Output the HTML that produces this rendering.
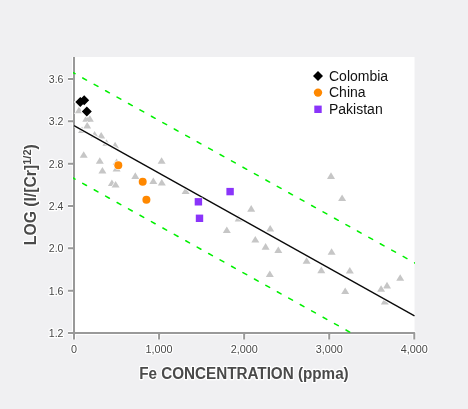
<!DOCTYPE html>
<html><head><meta charset="utf-8"><style>
html,body{margin:0;padding:0;width:468px;height:409px;overflow:hidden;background:#f0f0f2;}
svg{display:block;will-change:transform;}
</style></head><body><svg width="468" height="409" viewBox="0 0 468 409"><rect x="0" y="0" width="468" height="409" fill="#f0f0f2"/><rect x="74" y="57" width="340.5" height="276" fill="#ffffff"/><defs><clipPath id="c"><rect x="73" y="57" width="342" height="276"/></clipPath></defs><path d="M74 57V339.5M68 333H414.3V339.5M68 79.00H74M68 121.33H74M68 163.67H74M68 206.00H74M68 248.33H74M68 290.67H74M159.08 333V339.5M244.16 333V339.5M329.24 333V339.5" fill="none" stroke="#fff" stroke-width="4" stroke-linejoin="round"/><path d="M74 57V339.5M68 333H414.3V339.5M68 79.00H74M68 121.33H74M68 163.67H74M68 206.00H74M68 248.33H74M68 290.67H74M159.08 333V339.5M244.16 333V339.5M329.24 333V339.5" fill="none" stroke="#999999" stroke-width="2" stroke-linejoin="round"/><g clip-path="url(#c)"><line x1="70.5" y1="71.17" x2="420" y2="265.84" stroke="#00f000" stroke-width="1.5" stroke-dasharray="4.3 8.8" stroke-dashoffset="-0.9" stroke-linecap="round"/><line x1="70.5" y1="176.57" x2="420" y2="371.24" stroke="#00f000" stroke-width="1.5" stroke-dasharray="4.3 8.8" stroke-dashoffset="-0.9" stroke-linecap="round"/><path d="M75.00 113.20L79.00 106.60L83.00 113.20Z" fill="#c6c6c6" stroke="#fff" stroke-width="1.2" paint-order="stroke"/><path d="M82.30 121.70L86.30 115.10L90.30 121.70Z" fill="#c6c6c6" stroke="#fff" stroke-width="1.2" paint-order="stroke"/><path d="M85.80 121.70L89.80 115.10L93.80 121.70Z" fill="#c6c6c6" stroke="#fff" stroke-width="0" paint-order="stroke"/><path d="M83.20 128.60L87.20 122.00L91.20 128.60Z" fill="#c6c6c6" stroke="#fff" stroke-width="1.2" paint-order="stroke"/><path d="M78.00 133.00L82.00 126.40L86.00 133.00Z" fill="#c6c6c6" stroke="#fff" stroke-width="1.2" paint-order="stroke"/><path d="M90.60 137.60L94.60 131.00L98.60 137.60Z" fill="#c6c6c6" stroke="#fff" stroke-width="1.2" paint-order="stroke"/><path d="M97.20 138.60L101.20 132.00L105.20 138.60Z" fill="#c6c6c6" stroke="#fff" stroke-width="1.2" paint-order="stroke"/><path d="M102.40 145.80L106.40 139.20L110.40 145.80Z" fill="#c6c6c6" stroke="#fff" stroke-width="1.2" paint-order="stroke"/><path d="M111.10 148.40L115.10 141.80L119.10 148.40Z" fill="#c6c6c6" stroke="#fff" stroke-width="1.2" paint-order="stroke"/><path d="M79.70 157.80L83.70 151.20L87.70 157.80Z" fill="#c6c6c6" stroke="#fff" stroke-width="1.2" paint-order="stroke"/><path d="M95.80 163.80L99.80 157.20L103.80 163.80Z" fill="#c6c6c6" stroke="#fff" stroke-width="1.2" paint-order="stroke"/><path d="M98.40 173.60L102.40 167.00L106.40 173.60Z" fill="#c6c6c6" stroke="#fff" stroke-width="1.2" paint-order="stroke"/><path d="M112.60 165.00L116.60 158.40L120.60 165.00Z" fill="#c6c6c6" stroke="#fff" stroke-width="1.2" paint-order="stroke"/><path d="M112.60 171.60L116.60 165.00L120.60 171.60Z" fill="#c6c6c6" stroke="#fff" stroke-width="1.2" paint-order="stroke"/><path d="M107.90 186.00L111.90 179.40L115.90 186.00Z" fill="#c6c6c6" stroke="#fff" stroke-width="1.2" paint-order="stroke"/><path d="M111.60 187.60L115.60 181.00L119.60 187.60Z" fill="#c6c6c6" stroke="#fff" stroke-width="1.2" paint-order="stroke"/><path d="M157.60 163.80L161.60 157.20L165.60 163.80Z" fill="#c6c6c6" stroke="#fff" stroke-width="1.2" paint-order="stroke"/><path d="M131.30 178.90L135.30 172.30L139.30 178.90Z" fill="#c6c6c6" stroke="#fff" stroke-width="1.2" paint-order="stroke"/><path d="M149.30 184.00L153.30 177.40L157.30 184.00Z" fill="#c6c6c6" stroke="#fff" stroke-width="1.2" paint-order="stroke"/><path d="M157.80 185.50L161.80 178.90L165.80 185.50Z" fill="#c6c6c6" stroke="#fff" stroke-width="1.2" paint-order="stroke"/><path d="M181.60 194.00L185.60 187.40L189.60 194.00Z" fill="#c6c6c6" stroke="#fff" stroke-width="1.2" paint-order="stroke"/><path d="M247.20 211.70L251.20 205.10L255.20 211.70Z" fill="#c6c6c6" stroke="#fff" stroke-width="1.2" paint-order="stroke"/><path d="M234.70 221.40L238.70 214.80L242.70 221.40Z" fill="#c6c6c6" stroke="#fff" stroke-width="1.2" paint-order="stroke"/><path d="M222.80 233.00L226.80 226.40L230.80 233.00Z" fill="#c6c6c6" stroke="#fff" stroke-width="1.2" paint-order="stroke"/><path d="M251.30 242.50L255.30 235.90L259.30 242.50Z" fill="#c6c6c6" stroke="#fff" stroke-width="1.2" paint-order="stroke"/><path d="M266.20 231.50L270.20 224.90L274.20 231.50Z" fill="#c6c6c6" stroke="#fff" stroke-width="1.2" paint-order="stroke"/><path d="M261.60 249.70L265.60 243.10L269.60 249.70Z" fill="#c6c6c6" stroke="#fff" stroke-width="1.2" paint-order="stroke"/><path d="M274.30 253.10L278.30 246.50L282.30 253.10Z" fill="#c6c6c6" stroke="#fff" stroke-width="1.2" paint-order="stroke"/><path d="M265.80 277.00L269.80 270.40L273.80 277.00Z" fill="#c6c6c6" stroke="#fff" stroke-width="1.2" paint-order="stroke"/><path d="M327.00 178.90L331.00 172.30L335.00 178.90Z" fill="#c6c6c6" stroke="#fff" stroke-width="1.2" paint-order="stroke"/><path d="M338.10 201.00L342.10 194.40L346.10 201.00Z" fill="#c6c6c6" stroke="#fff" stroke-width="1.2" paint-order="stroke"/><path d="M327.60 254.80L331.60 248.20L335.60 254.80Z" fill="#c6c6c6" stroke="#fff" stroke-width="1.2" paint-order="stroke"/><path d="M302.60 263.80L306.60 257.20L310.60 263.80Z" fill="#c6c6c6" stroke="#fff" stroke-width="1.2" paint-order="stroke"/><path d="M317.30 273.20L321.30 266.60L325.30 273.20Z" fill="#c6c6c6" stroke="#fff" stroke-width="1.2" paint-order="stroke"/><path d="M345.80 273.60L349.80 267.00L353.80 273.60Z" fill="#c6c6c6" stroke="#fff" stroke-width="1.2" paint-order="stroke"/><path d="M341.20 294.10L345.20 287.50L349.20 294.10Z" fill="#c6c6c6" stroke="#fff" stroke-width="1.2" paint-order="stroke"/><path d="M396.20 280.80L400.20 274.20L404.20 280.80Z" fill="#c6c6c6" stroke="#fff" stroke-width="1.2" paint-order="stroke"/><path d="M383.00 288.40L387.00 281.80L391.00 288.40Z" fill="#c6c6c6" stroke="#fff" stroke-width="1.2" paint-order="stroke"/><path d="M377.10 291.80L381.10 285.20L385.10 291.80Z" fill="#c6c6c6" stroke="#fff" stroke-width="1.2" paint-order="stroke"/><path d="M380.80 304.50L384.80 297.90L388.80 304.50Z" fill="#c6c6c6" stroke="#fff" stroke-width="1.2" paint-order="stroke"/><line x1="74.5" y1="125.60" x2="414.5" y2="315.83" stroke="#fff" stroke-width="3.2"/><line x1="74" y1="125.60" x2="414.5" y2="315.83" stroke="#0a0a0a" stroke-width="1.35"/><circle cx="118.3" cy="165.2" r="4.0" fill="#ff8800" stroke="#fff" stroke-width="1.5" paint-order="stroke"/><circle cx="142.7" cy="181.7" r="4.0" fill="#ff8800" stroke="#fff" stroke-width="1.5" paint-order="stroke"/><circle cx="146.4" cy="199.8" r="4.0" fill="#ff8800" stroke="#fff" stroke-width="1.5" paint-order="stroke"/><rect x="194.70" y="198.10" width="7.4" height="7.4" fill="#8a34fa" stroke="#fff" stroke-width="1" paint-order="stroke"/><rect x="195.80" y="214.60" width="7.4" height="7.4" fill="#8a34fa" stroke="#fff" stroke-width="1" paint-order="stroke"/><rect x="226.40" y="187.90" width="7.4" height="7.4" fill="#8a34fa" stroke="#fff" stroke-width="1" paint-order="stroke"/><path d="M75.30 102.00L80.30 97.00L85.30 102.00L80.30 107.00ZM79.20 100.20L84.20 95.20L89.20 100.20L84.20 105.20ZM81.80 111.50L86.80 106.50L91.80 111.50L86.80 116.50Z" fill="#000" stroke="#fff" stroke-width="2" paint-order="stroke"/></g><text x="63.5" y="82.90" text-anchor="end" font-family="Liberation Sans" font-size="10.6" fill="#484848" paint-order="stroke" stroke="#fff" stroke-width="2.5" stroke-linejoin="round">3.6</text><text x="63.5" y="125.23" text-anchor="end" font-family="Liberation Sans" font-size="10.6" fill="#484848" paint-order="stroke" stroke="#fff" stroke-width="2.5" stroke-linejoin="round">3.2</text><text x="63.5" y="167.57" text-anchor="end" font-family="Liberation Sans" font-size="10.6" fill="#484848" paint-order="stroke" stroke="#fff" stroke-width="2.5" stroke-linejoin="round">2.8</text><text x="63.5" y="209.90" text-anchor="end" font-family="Liberation Sans" font-size="10.6" fill="#484848" paint-order="stroke" stroke="#fff" stroke-width="2.5" stroke-linejoin="round">2.4</text><text x="63.5" y="252.23" text-anchor="end" font-family="Liberation Sans" font-size="10.6" fill="#484848" paint-order="stroke" stroke="#fff" stroke-width="2.5" stroke-linejoin="round">2.0</text><text x="63.5" y="294.57" text-anchor="end" font-family="Liberation Sans" font-size="10.6" fill="#484848" paint-order="stroke" stroke="#fff" stroke-width="2.5" stroke-linejoin="round">1.6</text><text x="63.5" y="336.90" text-anchor="end" font-family="Liberation Sans" font-size="10.6" fill="#484848" paint-order="stroke" stroke="#fff" stroke-width="2.5" stroke-linejoin="round">1.2</text><text x="74.00" y="353.4" text-anchor="middle" font-family="Liberation Sans" font-size="10.8" fill="#484848" paint-order="stroke" stroke="#fff" stroke-width="2.5" stroke-linejoin="round">0</text><text x="159.08" y="353.4" text-anchor="middle" font-family="Liberation Sans" font-size="10.8" fill="#484848" paint-order="stroke" stroke="#fff" stroke-width="2.5" stroke-linejoin="round">1,000</text><text x="244.16" y="353.4" text-anchor="middle" font-family="Liberation Sans" font-size="10.8" fill="#484848" paint-order="stroke" stroke="#fff" stroke-width="2.5" stroke-linejoin="round">2,000</text><text x="329.24" y="353.4" text-anchor="middle" font-family="Liberation Sans" font-size="10.8" fill="#484848" paint-order="stroke" stroke="#fff" stroke-width="2.5" stroke-linejoin="round">3,000</text><text x="414.32" y="353.4" text-anchor="middle" font-family="Liberation Sans" font-size="10.8" fill="#484848" paint-order="stroke" stroke="#fff" stroke-width="2.5" stroke-linejoin="round">4,000</text><path d="M313 76L318 71L323 76L318 81Z" fill="#000"/><circle cx="318" cy="92.6" r="4.2" fill="#ff8800"/><rect x="314.3" y="105.6" width="7.4" height="7.4" fill="#8a34fa"/><text x="329" y="80.8" font-family="Liberation Sans" font-size="14" fill="#111">Colombia</text><text x="329" y="96.8" font-family="Liberation Sans" font-size="14" fill="#111">China</text><text x="329" y="113.9" font-family="Liberation Sans" font-size="14" fill="#111">Pakistan</text><text x="139.2" y="378.8" font-size="16" textLength="209.5" lengthAdjust="spacingAndGlyphs" font-family="Liberation Sans" font-weight="bold" fill="#fff" stroke="#fff" stroke-width="2.5" stroke-linejoin="round">Fe CONCENTRATION (ppma)</text><text x="139.2" y="378.8" font-size="16" textLength="209.5" lengthAdjust="spacingAndGlyphs" font-family="Liberation Sans" font-weight="bold" fill="#4a4a4a" stroke="#4a4a4a" stroke-width="0">Fe CONCENTRATION (ppma)</text><text transform="translate(35.8 245.2) rotate(-90)" x="0" y="0" font-size="16.4" textLength="101" lengthAdjust="spacingAndGlyphs" font-family="Liberation Sans" font-weight="bold" fill="#fff" stroke="#fff" stroke-width="2.5" stroke-linejoin="round">LOG (I/[Cr]<tspan dy="-4.6" font-size="11.5">1/2</tspan><tspan dy="4.6">)</tspan></text><text transform="translate(35.8 245.2) rotate(-90)" x="0" y="0" font-size="16.4" textLength="101" lengthAdjust="spacingAndGlyphs" font-family="Liberation Sans" font-weight="bold" fill="#4a4a4a" stroke="#4a4a4a" stroke-width="0">LOG (I/[Cr]<tspan dy="-4.6" font-size="11.5">1/2</tspan><tspan dy="4.6">)</tspan></text></svg></body></html>
